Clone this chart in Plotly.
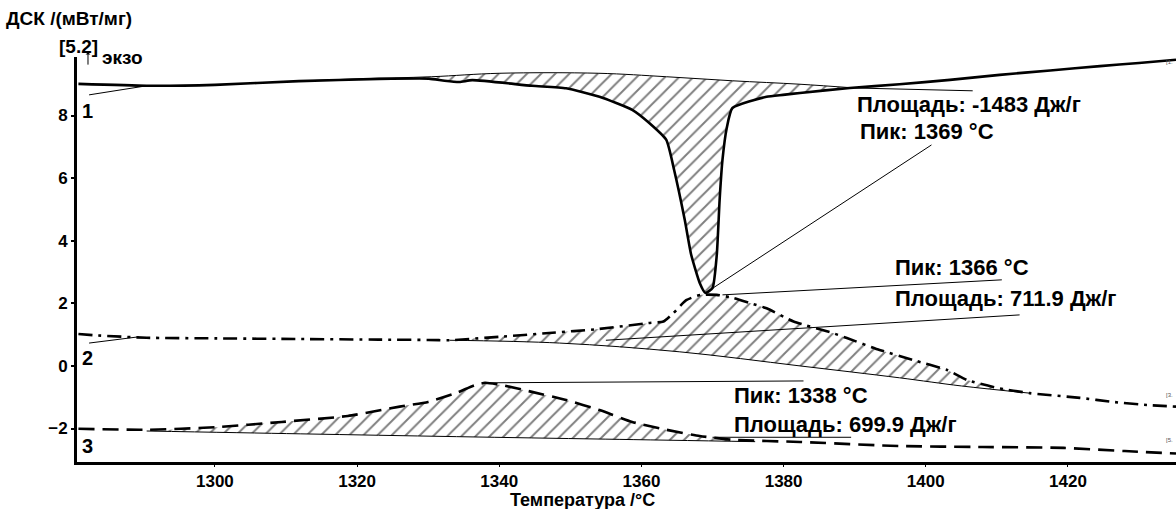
import numpy as np
import plotly.graph_objects as go

FONT = "Liberation Sans, Arial, sans-serif"

# curve 1 (solid) -- DSC signal, mW/mg
t1 = [1280.8, 1290.4, 1300.0, 1311.8, 1323.1, 1330.1, 1332.3, 1334.4, 1336.2, 1344.6,
      1349.4, 1354.1, 1358.7, 1361.1, 1363.5, 1364.6, 1366.1, 1367.0, 1368.2, 1369.0,
      1370.0, 1370.6, 1371.0, 1371.4, 1372.0, 1372.8, 1377.6, 1379.9, 1382.3, 1389.3,
      1396.3, 1403.4, 1410.4, 1417.5, 1424.5, 1430.0, 1435.2]
v1 = [9.01, 8.95, 8.98, 9.10, 9.17, 9.18, 9.11, 9.07, 9.13, 8.95,
      8.87, 8.60, 8.18, 7.76, 7.22, 6.26, 4.66, 3.55, 2.65, 2.33,
      2.49, 3.55, 5.30, 6.58, 7.60, 8.24, 8.60, 8.66, 8.72, 8.88,
      9.00, 9.14, 9.30, 9.44, 9.58, 9.68, 9.78]
# integration baseline of peak 1
b1_t = [1311.8, 1320.0, 1330.5, 1340.0, 1354.0, 1363.5, 1372.8, 1382.3, 1390.0]
b1_v = [9.10, 9.17, 9.24, 9.35, 9.35, 9.24, 9.11, 9.00, 8.88]

# curve 2 (dash-dot)
t2 = [1280.8, 1283.0, 1290.4, 1300.0, 1311.8, 1323.0, 1330.0, 1333.0, 1340.0, 1347.0,
      1354.0, 1361.0, 1363.1, 1364.5, 1366.3, 1368.3, 1370.6, 1373.0, 1375.4, 1377.6,
      1381.4, 1386.9, 1388.9, 1393.5, 1398.2, 1403.0, 1405.8, 1410.0, 1414.6, 1421.7,
      1426.3, 1431.1, 1435.2]
v2 = [1.02, 0.98, 0.90, 0.88, 0.86, 0.84, 0.83, 0.82, 0.93, 1.05,
      1.18, 1.37, 1.42, 1.69, 2.10, 2.27, 2.27, 2.17, 2.00, 1.84,
      1.42, 1.05, 0.89, 0.51, 0.19, -0.13, -0.45, -0.70, -0.87, -1.02,
      -1.15, -1.25, -1.30]
b2_t = [1333.0, 1348.5, 1365.4, 1382.3, 1396.3, 1405.0, 1414.6]
b2_v = [0.82, 0.73, 0.45, 0.00, -0.38, -0.64, -0.87]

# curve 3 (dashed)
t3 = [1280.8, 1290.4, 1300.0, 1309.4, 1318.7, 1326.0, 1330.0, 1334.0, 1336.5, 1338.0,
      1340.5, 1344.6, 1349.4, 1354.1, 1358.7, 1363.5, 1368.2, 1372.8, 1382.3, 1396.3,
      1408.0, 1419.4, 1428.0, 1435.2]
v3 = [-2.01, -2.04, -1.96, -1.79, -1.60, -1.30, -1.15, -0.86, -0.62, -0.54,
      -0.62, -0.83, -1.09, -1.41, -1.79, -2.04, -2.24, -2.36, -2.43, -2.56,
      -2.59, -2.62, -2.72, -2.80]
b3_t = [1290.4, 1312.0, 1334.0, 1355.0, 1376.0]
b3_v = [-2.08, -2.17, -2.26, -2.34, -2.42]

# leader lines (start, end) for the result labels
lead_t = [[1369.0, 1400.8], [1390.0, 1406.6], [1371.4, 1410.7], [1355.0, 1413.2],
          [1338.0, 1382.8], [1370.0, 1389.5], [1282.3, 1290.4], [1282.3, 1289.3]]
lead_v = [[2.33, 7.06], [8.88, 8.79], [2.27, 2.75], [0.82, 1.63],
          [-0.54, -0.48], [-2.28, -2.28], [8.66, 8.95], [0.73, 0.93]]

labels = ["Площадь: -1483 Дж/г", "Пик: 1369 °C", "Пик: 1366 °C",
          "Площадь: 711.9 Дж/г", "Пик: 1338 °C", "Площадь: 699.9 Дж/г"]
label_t = [1390.0, 1390.5, 1395.4, 1395.4, 1372.8, 1372.8]
label_v = [8.36, 7.49, 3.13, 2.17, -0.96, -1.88]

x_ticks = [1300, 1320, 1340, 1360, 1380, 1400, 1420]
y_ticks = [-2, 0, 2, 4, 6, 8]


def hatch(t, v, bt, bv):
    t = np.asarray(t)
    v = np.asarray(v)
    m = (t > bt[0]) & (t < bt[-1])
    xs = [bt[0]] + list(t[m]) + [bt[-1]] + list(bt[::-1])
    ys = [bv[0]] + list(v[m]) + [bv[-1]] + list(bv[::-1])
    return go.Scatter(x=xs, y=ys, mode="lines", fill="toself",
                      line=dict(width=0, color="rgba(0,0,0,0)"),
                      fillcolor="rgba(0,0,0,0)",
                      fillpattern=dict(shape="/", size=10, solidity=0.2,
                                       fgcolor="black", bgcolor="rgba(255,255,255,0)"),
                      hoverinfo="skip", showlegend=False)


fig = go.Figure()

for (t, v, bt, bv) in [(t1, v1, b1_t, b1_v), (t2, v2, b2_t, b2_v), (t3, v3, b3_t, b3_v)]:
    fig.add_trace(hatch(t, v, bt, bv))
    fig.add_trace(go.Scatter(x=bt, y=bv, mode="lines", line_shape="spline",
                             line=dict(color="black", width=1), showlegend=False))

for lt, lv in zip(lead_t, lead_v):
    fig.add_trace(go.Scatter(x=lt, y=lv, mode="lines",
                             line=dict(color="black", width=1), showlegend=False))

fig.add_trace(go.Scatter(x=t1, y=v1, mode="lines",
                         line=dict(color="black", width=2.6, shape="spline", smoothing=0.5),
                         showlegend=False))
fig.add_trace(go.Scatter(x=t2, y=v2, mode="lines",
                         line=dict(color="black", width=2.6, dash="14px,6px,3px,6px",
                                   shape="spline", smoothing=0.5),
                         showlegend=False))
fig.add_trace(go.Scatter(x=t3, y=v3, mode="lines",
                         line=dict(color="black", width=2.6, dash="16px,8px",
                                   shape="spline", smoothing=0.5),
                         showlegend=False))

lab_font = dict(family=FONT, size=22, color="black", weight="bold")
for txt, tx, ty in zip(labels, label_t, label_v):
    fig.add_annotation(x=tx, y=ty, text=txt, showarrow=False, xanchor="left",
                       yanchor="middle", font=lab_font)

num_font = dict(family=FONT, size=20, color="black", weight="bold")
for num, ty in [("1", 8.15), ("2", 0.25), ("3", -2.55)]:
    fig.add_annotation(x=1281.0, y=ty, text=num, showarrow=False, xanchor="left",
                       yanchor="middle", font=num_font)

small = dict(family=FONT, size=6, color="#555")
for txt, ty in [("[1.", 9.72), ("[3.", -0.92), ("[5.", -2.38)]:
    fig.add_annotation(xref="paper", x=0.999, y=ty, text=txt, showarrow=False,
                       xanchor="right", yanchor="middle", font=small)

head = dict(family=FONT, size=19, color="black", weight="bold")
fig.add_annotation(xref="paper", yref="paper", x=-0.0665, y=1.096, text="ДСК /(мВт/мг)",
                   showarrow=False, xanchor="left", yanchor="middle", font=head)
fig.add_annotation(xref="paper", yref="paper", x=-0.0182, y=1.025, text="[5.2]",
                   showarrow=False, xanchor="left", yanchor="middle", font=head)
fig.add_annotation(xref="paper", yref="paper", x=0.0209, y=1.0, text="экзо",
                   showarrow=False, xanchor="left", yanchor="middle", font=head)
fig.add_annotation(xref="paper", yref="paper", x=0.01, y=1.012, ax=0, ay=14,
                   text="", showarrow=True,
                   arrowhead=1, arrowsize=0.8, arrowwidth=1, arrowcolor="black")
fig.add_annotation(xref="paper", yref="paper", x=0.46, y=-0.093, text="Температура /°C",
                   showarrow=False, xanchor="center", yanchor="middle",
                   font=dict(family=FONT, size=18, color="black", weight="bold"))

tick_font = dict(family=FONT, size=17, color="black", weight="bold")
fig.update_layout(
    width=1176, height=509,
    plot_bgcolor="white", paper_bgcolor="white",
    margin=dict(l=77, r=0, t=57, b=47),
    showlegend=False,
    font=dict(family=FONT, color="black"),
)
fig.update_xaxes(range=[1280.6, 1435.2], tickvals=x_ticks, showgrid=False, zeroline=False,
                 showline=True, linecolor="black", linewidth=3, automargin=False,
                 ticks="outside", ticklen=2, tickwidth=1, tickcolor="black",
                 tickfont=tick_font)
fig.update_yaxes(range=[-3.07, 9.87], tickvals=y_ticks, showgrid=False, zeroline=False,
                 showline=True, linecolor="black", linewidth=3, automargin=False,
                 ticks="outside", ticklen=3, tickwidth=2, tickcolor="black",
                 tickfont=tick_font)

fig.write_html("out.html", config={"displayModeBar": False},
               post_script="document.body.style.margin='0';"
                           "document.body.style.overflow='hidden';")
